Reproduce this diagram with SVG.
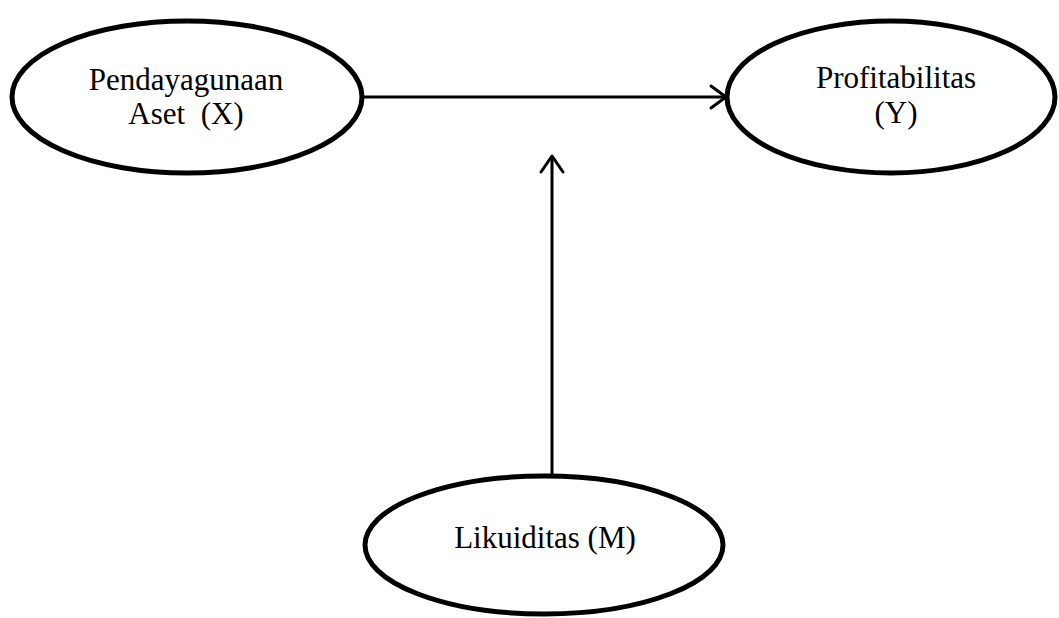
<svg xmlns="http://www.w3.org/2000/svg" width="1059" height="618" viewBox="0 0 1059 618">
<style>
.node ellipse{fill:#fff;stroke:#000;stroke-width:5}
.node text{font-family:"Liberation Serif","Times New Roman",serif;font-size:31px;fill:#000;text-anchor:middle}
.conn line{stroke:#000;stroke-width:3}
.conn polyline{fill:none;stroke:#000;stroke-width:3;stroke-linecap:round;stroke-linejoin:round}
</style>
<rect width="1059" height="618" fill="#fff"/>
<g id="connectors" class="conn">
<line x1="362" y1="97" x2="726" y2="97"/>
<polyline points="711,86 726,97 711,108"/>
<line x1="552" y1="476" x2="552" y2="156"/>
<polyline points="541,172 552,156 563,172"/>
</g>
<g id="nodeX" class="node">
<ellipse cx="187" cy="97" rx="175" ry="76"/>
<text x="186" y="90">Pendayagunaan</text>
<text x="186" y="124" xml:space="preserve">Aset  (X)</text>
</g>
<g id="nodeY" class="node">
<ellipse cx="891" cy="97" rx="164" ry="76"/>
<text x="896" y="88">Profitabilitas</text>
<text x="896" y="123">(Y)</text>
</g>
<g id="nodeM" class="node">
<ellipse cx="544" cy="545" rx="179" ry="69"/>
<text x="545" y="548">Likuiditas (M)</text>
</g>
</svg>
